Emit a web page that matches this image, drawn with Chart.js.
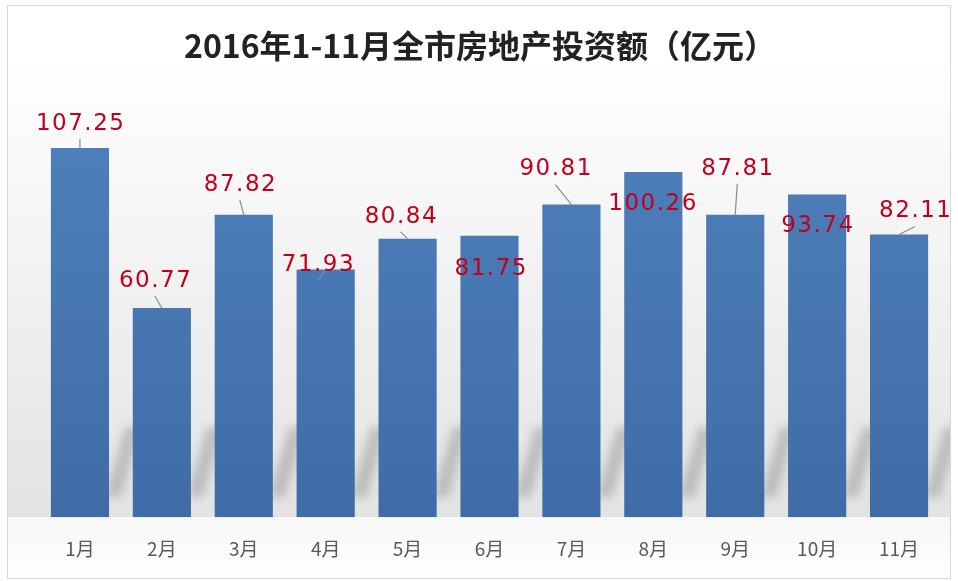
<!DOCTYPE html>
<html>
<head>
<meta charset="utf-8">
<script src="https://cdn.jsdelivr.net/npm/chart.js@4"></script>
<style>
  body { margin: 0; background: #fff; }
  canvas { display: block; }
</style>
</head>
<body>
<canvas id="bar-chart" width="958" height="581"></canvas>
<script>
// data
const months = ['1月', '2月', '3月', '4月', '5月', '6月', '7月', '8月', '9月', '10月', '11月'];
const investment = [107.25, 60.77, 87.82, 71.93, 80.84, 81.75, 90.81, 100.26, 87.81, 93.74, 82.11];
const titleText = '2016年1-11月全市房地产投资额（亿元）';

// where each value label sits relative to its bar top (dx, dy in px)
const labelShift = [
    [0, -24], [-7, -27], [-4, -30], [-8, -4], [-7, -22], [1, 33],
    [-16, -35], [-1, 32], [2, -46], [0, 32], [16, -23]
];

const panelPlugin = {
    id: 'panel',
    beforeDraw(chart) {
        const ctx = chart.ctx;
        const area = chart.chartArea;
        ctx.save();
        ctx.fillStyle = '#ffffff';
        ctx.fillRect(0, 0, chart.width, chart.height);
        // gray gradient wall behind the bars
        const g = ctx.createLinearGradient(0, 60, 0, area.bottom);
        g.addColorStop(0, '#ffffff');
        g.addColorStop(0.5, '#f1f1f1');
        g.addColorStop(1, '#e3e3e3');
        ctx.fillStyle = g;
        ctx.fillRect(8, 60, 942, area.bottom - 60);
        const g2 = ctx.createLinearGradient(0, area.bottom, 0, 578);
        g2.addColorStop(0, '#f7f7f7');
        g2.addColorStop(1, '#ffffff');
        ctx.fillStyle = g2;
        ctx.fillRect(8, area.bottom, 942, 578 - area.bottom);

        // soft diagonal shadows between the bars
        const meta = chart.getDatasetMeta(0);
        ctx.save();
        ctx.beginPath();
        ctx.rect(8, 60, 942, area.bottom - 60);
        ctx.clip();
        ctx.filter = 'blur(5px)';
        ctx.fillStyle = 'rgba(120,120,120,0.38)';
        meta.data.forEach(bar => {
            const right = bar.x + bar.width / 2;
            ctx.beginPath();
            ctx.moveTo(right - 4, area.bottom - 20);
            ctx.lineTo(right + 12, area.bottom - 20);
            ctx.lineTo(right + 32, area.bottom - 90);
            ctx.lineTo(right + 16, area.bottom - 90);
            ctx.closePath();
            ctx.fill();
        });
        ctx.restore();

        ctx.strokeStyle = '#d6d6d6';
        ctx.lineWidth = 1;
        ctx.strokeRect(7.5, 5.5, 943, 573);

        // title
        ctx.fillStyle = '#222222';
        ctx.font = 'bold 32px "Noto Sans CJK SC"';
        ctx.textAlign = 'center';
        ctx.textBaseline = 'middle';
        ctx.fillText(titleText, 480, 46);
        ctx.restore();
    },
    afterDatasetsDraw(chart) {
        const ctx = chart.ctx;
        const meta = chart.getDatasetMeta(0);
        ctx.save();
        ctx.font = '23px "DejaVu Sans"';
        ctx.letterSpacing = '1.5px';
        ctx.textAlign = 'center';
        ctx.textBaseline = 'middle';
        meta.data.forEach((bar, i) => {
            const lx = bar.x + labelShift[i][0];
            const ly = bar.y + labelShift[i][1];
            if (labelShift[i][1] < 0) {
                // leader line from label to bar top
                ctx.strokeStyle = '#8c8c8c';
                ctx.lineWidth = 1.2;
                ctx.beginPath();
                ctx.moveTo(lx, ly + 15);
                ctx.lineTo(bar.x, bar.y);
                ctx.stroke();
            }
            ctx.fillStyle = '#c0001c';
            ctx.fillText(investment[i].toFixed(2), lx + 0.75, ly);
        });
        ctx.restore();
    }
};

const bar_chart_ctx = document.getElementById('bar-chart').getContext('2d');
const barFill = bar_chart_ctx.createLinearGradient(0, 100, 0, 517);
barFill.addColorStop(0, '#4f81bd');
barFill.addColorStop(1, '#3f6ca6');

const bar_chart = new Chart(bar_chart_ctx, {
    type: 'bar',
    data: {
        labels: months,
        datasets: [{
            data: investment,
            backgroundColor: barFill,
            borderWidth: 0,
            barPercentage: 0.71,
            categoryPercentage: 1
        }]
    },
    options: {
        responsive: false,
        animation: false,
        layout: {padding: {top: 104, left: 39, right: 18, bottom: 1}},
        plugins: {
            legend: {display: false},
            title: {display: false},
            tooltip: {enabled: false}
        },
        scales: {
            x: {
                grid: {display: false, drawTicks: false},
                border: {display: false},
                ticks: {
                    color: '#595959',
                    padding: 20,
                    font: {family: '"Noto Sans CJK SC"', size: 19}
                }
            },
            y: {
                display: false,
                min: 0,
                max: 120
            }
        }
    },
    plugins: [panelPlugin]
});
</script>
</body>
</html>
